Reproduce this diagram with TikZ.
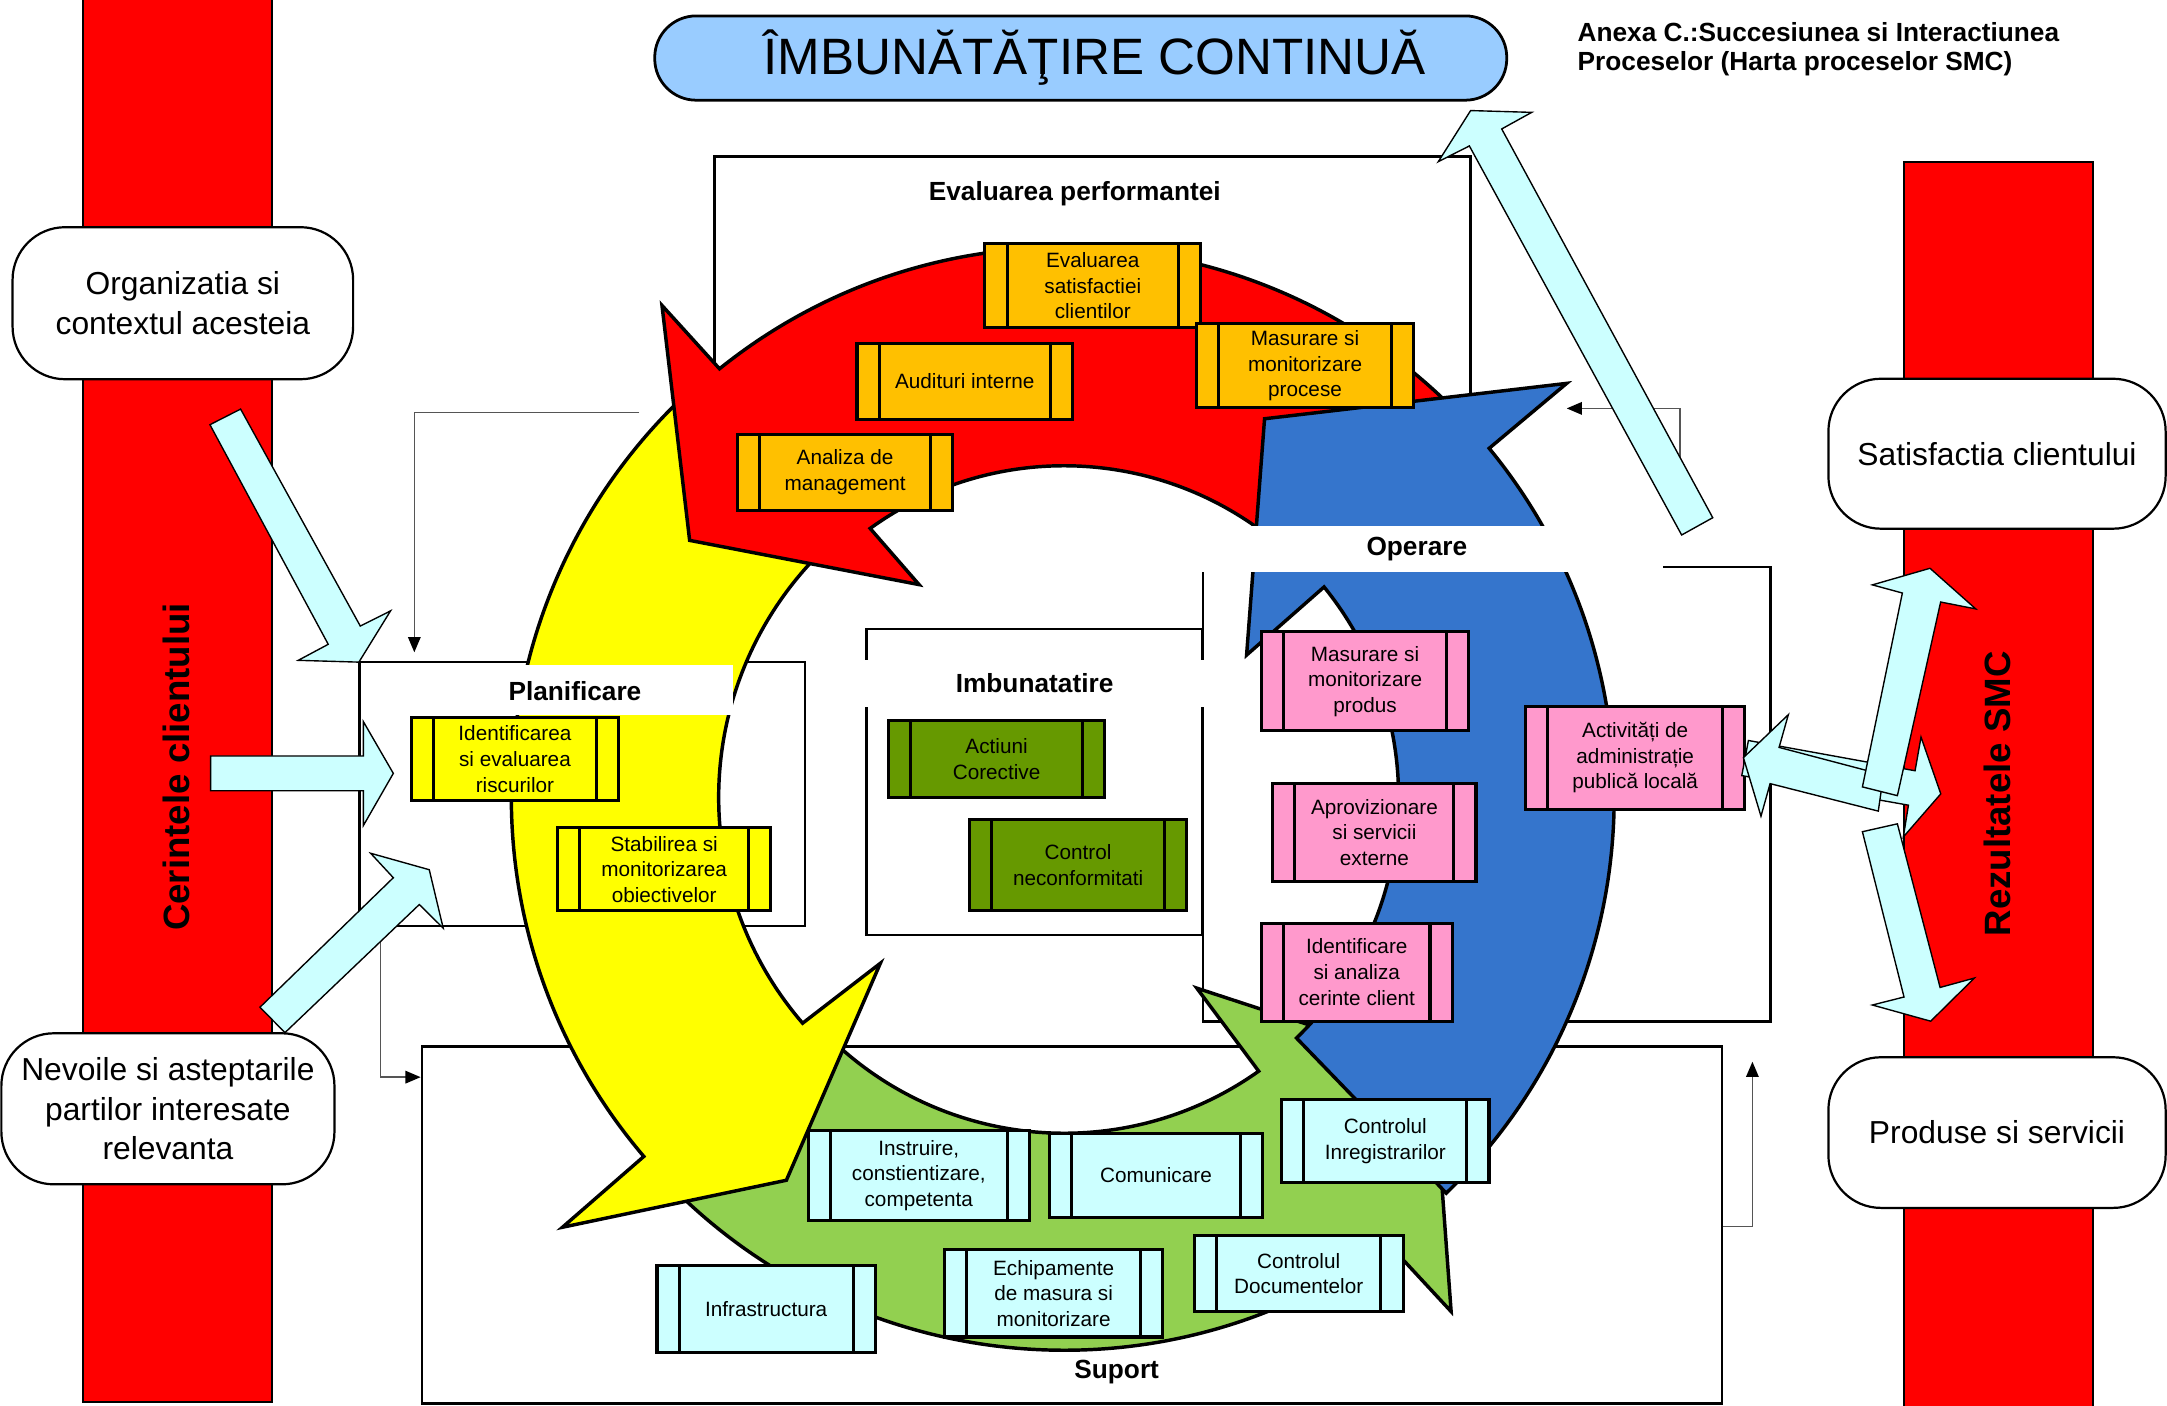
\documentclass[tikz,border=0pt]{standalone}
\usepackage{fontspec}
\setmainfont{Liberation Sans}
\usetikzlibrary{calc,arrows.meta}

\definecolor{barred}{HTML}{FF0000}
\definecolor{ringyellow}{HTML}{FFFF00}
\definecolor{ringgreen}{HTML}{92D050}
\definecolor{ringblue}{HTML}{3575CC}
\definecolor{evalbox}{HTML}{FFC000}
\definecolor{planbox}{HTML}{FFFF00}
\definecolor{imbbox}{HTML}{669900}
\definecolor{operbox}{HTML}{FF99CC}
\definecolor{supbox}{HTML}{CCFFFF}
\definecolor{titleblue}{HTML}{99CCFF}
\definecolor{connline}{HTML}{555555}

\tikzset{
  areabox/.style={draw, line width=2pt, inner sep=0pt},
  proc/.style={draw, line width=2.2pt, inner sep=0pt, align=center,
    font=\fontsize{15}{18.5}\selectfont,
    path picture={
      \draw[line width=2.2pt]
        ([xshift=16pt]path picture bounding box.north west) -- ([xshift=16pt]path picture bounding box.south west)
        ([xshift=-16pt]path picture bounding box.north east) -- ([xshift=-16pt]path picture bounding box.south east);}},
  pill/.style={draw, line width=1.6pt, fill=white, rounded corners=38pt, align=center,
    font=\fontsize{23}{28.5}\selectfont},
  flab/.style={font=\bfseries\fontsize{19}{22}\selectfont},
  barlab/.style={rotate=90, font=\bfseries\fontsize{26.5}{30}\selectfont},
  ring/.style={draw, line width=2.5pt},
  blockarr/.style={draw, line width=1pt, fill=supbox},
  conn/.style={draw=connline, line width=1.2pt, -{Triangle[length=11pt,width=9pt,color=black]}},
}

\begin{document}
\begin{tikzpicture}[x=1pt, y=-1pt]
\useasboundingbox (0,0) rectangle (1568,1017.3);

% red side bars
\draw[line width=1.5pt, fill=barred] (60.2,-5) rectangle (196.9,1014.2);
\draw[line width=1.5pt, fill=barred] (1377.7,117) rectangle (1514.2,1025);
\node[barlab] (cerlab) at (128,555) {Cerintele clientului};
\node[barlab] (rezlab) at (1445,574.4) {Rezultatele SMC};

% process areas
\node[areabox, minimum width=547, minimum height=207] (eval) at (790.5,216.5) {};
\node[areabox, minimum width=322.4, minimum height=191] (plan) at (421.2,574.5) {};
\node[areabox, minimum width=243.5, minimum height=221.4] (imb) at (748.5,565.9) {};
\node[areabox, minimum width=410.8, minimum height=328.7] (oper) at (1075.9,574.65) {};
\node[areabox, minimum width=940.6, minimum height=258.1] (sup) at (775.7,886.45) {};

% thin links
\coordinate (evout) at (462.6,298.5);
\coordinate (opout) at (1215.6,345);
\coordinate (evin) at (1133.6,295.5);
\coordinate (supout) at (1268,768.2);
\draw[conn] (evout) -| ([xshift=40.8pt,yshift=6pt]plan.north west);
\draw[conn] ([xshift=16.2pt]plan.south west) |- ([yshift=-23pt]sup.north west);
\draw[conn] ([yshift=129.1pt]sup.south east) -| (supout);
\draw[conn] (opout) |- (evin);

% cycle arrows
\coordinate (O) at (770,577);
\draw[ring, fill=ringgreen] ($(O)+(136:400)$) arc[start angle=136, end angle=54, radius=400]
  -- (1050,949) -- (1037,771) -- (866,715) -- ($(O)+(54.6:243)$)
  arc[start angle=54.6, end angle=136, radius=243] -- cycle;
\draw[ring, fill=ringyellow] ($(O)+(230:400)$) arc[start angle=230, end angle=139.5, radius=400]
  -- (407,888) -- (569,854) -- (637,697) -- ($(O)+(139.2:250)$)
  arc[start angle=139.2, end angle=230, radius=250] -- cycle;
\draw[ring, fill=barred] ($(O)+(-42:398)$) arc[start angle=-42, end angle=-128.8, radius=398]
  -- (479,221) -- (499,391) -- (665,423) -- ($(O)+(-125.8:240)$)
  arc[start angle=-125.8, end angle=-42, radius=240] -- cycle;
\draw[ring, fill=ringblue] ($(O)+(-39.4:398)$) arc[start angle=-39.4, end angle=46, radius=398]
  -- ($(O)+(46:242)$) arc[start angle=46, end angle=-39, radius=242]
  -- (902,474) -- (915,303) -- (1133.6,277.4) -- cycle;

% area titles
\fill[white] (262,481) rectangle (530.5,517.6);
\fill[white] (620,477.6) rectangle (877,511.4);
\fill[white] (868,380.6) rectangle (1203.4,413.9);
\node[flab] (evallab) at (777.7,140.1) {Evaluarea performantei};
\node[flab] (planlab) at (416,500.4) {Planificare};
\node[flab] (imblab) at (748.6,494.5) {Imbunatatire};
\node[flab] (operlab) at (1025.2,397.2) {Operare};
\node[flab] (suplab) at (808,992.5) {Suport};

% processes
\node[proc, fill=evalbox, minimum width=156, minimum height=61] (evsat) at (790.7,206.8) {Evaluarea\\satisfactiei\\clientilor};
\node[proc, fill=evalbox, minimum width=157, minimum height=61] (evproc) at (944.3,264.7) {Masurare si\\monitorizare\\procese};
\node[proc, fill=evalbox, minimum width=156, minimum height=55] (evaudit) at (698.1,276.1) {Audituri interne};
\node[proc, fill=evalbox, minimum width=156, minimum height=55] (evanal) at (611.5,341.6) {Analiza de\\management};
\node[proc, fill=planbox, minimum width=150, minimum height=60] (plrisc) at (372.6,549.3) {Identificarea\\si evaluarea\\riscurilor};
\node[proc, fill=planbox, minimum width=154, minimum height=60] (plobj) at (480.6,629) {Stabilirea si\\monitorizarea\\obiectivelor};
\node[proc, fill=imbbox, minimum width=156, minimum height=55.5] (imbac) at (721.1,549.4) {Actiuni\\Corective};
\node[proc, fill=imbbox, minimum width=157, minimum height=66] (imbnc) at (780.1,626) {Control\\neconformitati};
\node[proc, fill=operbox, minimum width=150, minimum height=71.5] (opprod) at (987.7,493) {Masurare si\\monitorizare\\produs};
\node[proc, fill=operbox, minimum width=147, minimum height=71] (opaprov) at (994.5,602.3) {Aprovizionare\\si servicii\\externe};
\node[proc, fill=operbox, minimum width=138, minimum height=71] (opcer) at (981.7,703.4) {Identificare\\si analiza\\cerinte client};
\node[proc, fill=operbox, minimum width=158.5, minimum height=74] (opadm) at (1183.2,548.4) {Activități de\\administrație\\publică locală};
\node[proc, fill=supbox, minimum width=160, minimum height=65.5] (supinstr) at (664.8,850.5) {Instruire,\\constientizare,\\competenta};
\node[proc, fill=supbox, minimum width=154, minimum height=61] (supcom) at (836.4,850.5) {Comunicare};
\node[proc, fill=supbox, minimum width=150, minimum height=60] (supinreg) at (1002.4,825.6) {Controlul\\Inregistrarilor};
\node[proc, fill=supbox, minimum width=158, minimum height=63] (supinfra) at (554.4,947.2) {Infrastructura};
\node[proc, fill=supbox, minimum width=158, minimum height=63] (supechip) at (762.4,935.9) {Echipamente\\de masura si\\monitorizare};
\node[proc, fill=supbox, minimum width=151, minimum height=55.5] (supdoc) at (939.7,921.4) {Controlul\\Documentelor};

% heading
\node[draw, line width=2pt, fill=titleblue, rounded corners=30pt, minimum width=616.5, minimum height=61,
  font=\fontsize{37}{40}\selectfont] (title) at (782,42) {\hspace*{20pt}ÎMBUNĂTĂŢIRE CONTINUĂ};
\node[anchor=west, align=left, font=\bfseries\fontsize{19}{21}\selectfont] (anexa) at (1138,35.5)
  {Anexa C.:Succesiunea si Interactiunea\\Proceselor (Harta proceselor SMC)};

% block arrows
\draw[blockarr] (151.9,307.3) -- (237.5,466.2) -- (215.8,477.8) -- (259.7,479.1) -- (282.6,442) -- (260.7,453) -- (174.1,296) -- cycle;
\draw[blockarr] (152.4,547) -- (262.9,547) -- (262.9,522.1) -- (284.6,559.6) -- (262.9,597.4) -- (262.9,572.2) -- (152.4,572.2) -- cycle;
\draw[blockarr] (188.1,728.8) -- (284.6,635.1) -- (268.2,617.4) -- (310.6,629.3) -- (320.7,671.6) -- (303.4,654.5) -- (206.2,747.2) -- cycle;
\draw[blockarr] (1216.8,387.1) -- (1063.2,105.6) -- (1040.7,117) -- (1064.1,80) -- (1108.3,81.3) -- (1086.6,93.3) -- (1239.3,374.6) -- cycle;
\draw[blockarr] (1265.1,535.8) -- (1385.7,557.7) -- (1390,533.3) -- (1404.3,574.4) -- (1377.2,605.6) -- (1380.9,582.6) -- (1260.3,561.2) -- cycle;
\draw[blockarr] (1362.8,560.7) -- (1287.3,540.8) -- (1294,517.1) -- (1261.5,548.2) -- (1274.2,590.6) -- (1280.8,567) -- (1359.1,586.9) -- cycle;
\draw[blockarr] (1347.6,569.4) -- (1376.5,429.1) -- (1354.8,423.2) -- (1396.5,411.2) -- (1429.6,440.6) -- (1404.2,435.6) -- (1372.9,575.7) -- cycle;
\draw[blockarr] (1347.6,601.8) -- (1377.7,721.4) -- (1354.8,727.2) -- (1397,738.9) -- (1428.6,707.7) -- (1403.8,714.5) -- (1372.9,596.1) -- cycle;

% inputs and outputs
\node[pill, minimum width=246.4, minimum height=110] (org) at (132.3,219.4) {Organizatia si\\contextul acesteia};
\node[pill, minimum width=241, minimum height=109.3] (nev) at (121.5,802.3) {Nevoile si asteptarile\\partilor interesate\\relevanta};
\node[pill, minimum width=244, minimum height=108.5] (satisf) at (1445,328.3) {Satisfactia clientului};
\node[pill, minimum width=244, minimum height=109] (prod) at (1445,819.5) {Produse si servicii};
\end{tikzpicture}
\end{document}
